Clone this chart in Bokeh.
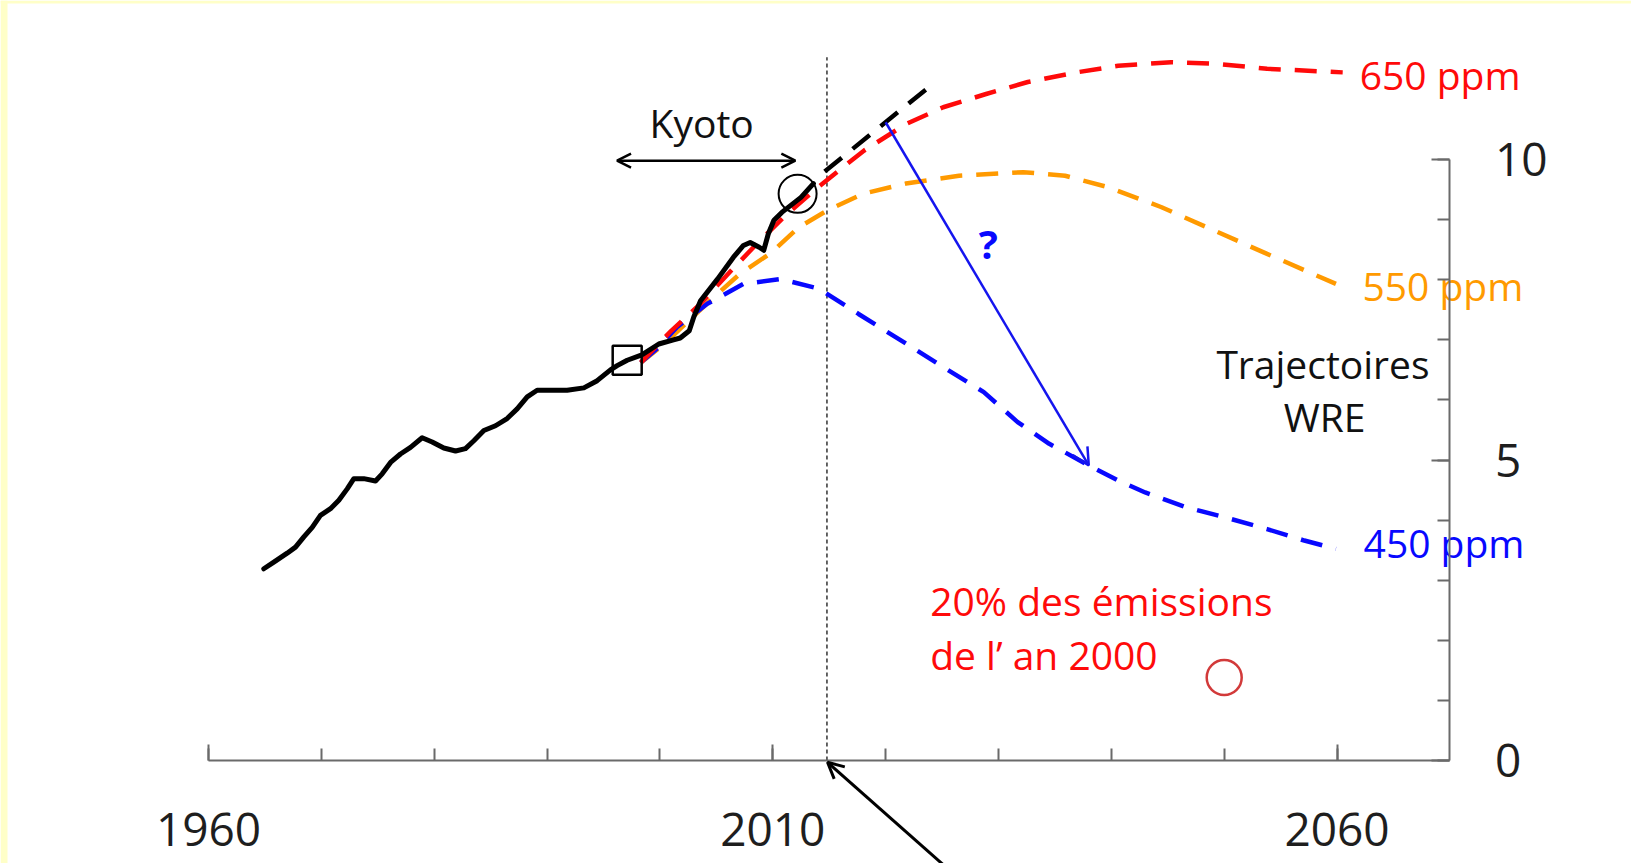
from bokeh.plotting import figure
from bokeh.models import Range1d, LinearAxis, FixedTicker, Arrow, OpenHead, BoxAnnotation
from bokeh.core.properties import value
from bokeh.embed import file_html
from bokeh.resources import INLINE

FONT = "Open Sans"

# ---------------- data ----------------
hist_years = [1964.90, 1965.79, 1966.97, 1967.71, 1968.45, 1969.19, 1969.92, 1970.81,
              1971.55, 1972.29, 1972.88, 1973.76, 1974.80, 1975.39, 1976.13, 1977.01,
              1977.90, 1978.93, 1979.82, 1980.85, 1981.89, 1982.77, 1983.51, 1984.40,
              1985.43, 1986.46, 1987.35, 1988.24, 1989.12, 1990.30, 1991.78, 1993.26,
              1994.44, 1995.62, 1996.21, 1997.1, 1998.4, 1999.9, 2001.2, 2001.8, 2002.6,
              2003.0, 2003.6, 2005.1, 2006.5, 2007.4, 2008.0, 2008.8, 2009.2, 2009.6,
              2010.1, 2010.8, 2012.5, 2013.6]
hist_values = [3.19, 3.30, 3.45, 3.55, 3.72, 3.88, 4.08, 4.19,
               4.33, 4.52, 4.69, 4.69, 4.65, 4.77, 4.96, 5.10,
               5.21, 5.37, 5.30, 5.20, 5.15, 5.19, 5.32, 5.49,
               5.57, 5.69, 5.85, 6.05, 6.16, 6.16, 6.16, 6.20,
               6.32, 6.50, 6.57, 6.66, 6.75, 6.93, 7.00, 7.03, 7.15,
               7.38, 7.65, 8.01, 8.37, 8.57, 8.62, 8.54, 8.49, 8.76,
               8.99, 9.12, 9.37, 9.60]

trend_years = [2014.6, 2024.0]
trend_values = [9.80, 11.23]

s650_years = [1998.3, 2001.0, 2003.6, 2006.3, 2008.6, 2011.3, 2013.9, 2016.6, 2018.1,
              2021.8, 2025.1, 2028.9, 2032.6, 2036.9, 2040.6, 2045.3, 2049.5, 2053.8, 2060.5]
s650_values = [6.62, 7.15, 7.60, 8.15, 8.60, 9.10, 9.52, 9.93, 10.15,
               10.59, 10.87, 11.09, 11.29, 11.45, 11.56, 11.62, 11.59, 11.51, 11.45]

s550_years = [1998.3, 2000.5, 2002.4, 2004.6, 2007.1, 2009.8, 2012.3, 2014.8, 2018.0,
              2021.8, 2026.5, 2032.2, 2035.9, 2039.7, 2044.4, 2049.1, 2053.8, 2059.9]
s550_values = [6.62, 6.95, 7.29, 7.68, 8.10, 8.44, 8.87, 9.15, 9.43,
               9.60, 9.73, 9.79, 9.73, 9.54, 9.21, 8.82, 8.43, 7.93]

s450_years = [1998.3, 1999.9, 2001.5, 2004.2, 2007.4, 2010.7, 2014.1, 2017.6, 2021.1,
              2024.9, 2028.7, 2031.7, 2034.5, 2038.0, 2040.6, 2043.0, 2046.7, 2050.0,
              2053.8, 2057.1, 2059.9]
s450_values = [6.62, 6.88, 7.21, 7.60, 7.93, 8.01, 7.85, 7.43, 7.02,
               6.57, 6.13, 5.63, 5.27, 4.91, 4.66, 4.46, 4.21, 4.05,
               3.85, 3.66, 3.52]

scenario_labels = ["650 ppm", "550 ppm", "450 ppm"]
scenario_colors = ["#ff0a0a", "#ff9a00", "#0808ff"]
label_years = [2062.0, 2062.25, 2062.35]
label_values = [11.41, 7.91, 3.62]

x_major_ticks = [1960, 2010, 2060]
x_minor_ticks = [1960, 1970, 1980, 1990, 2000, 2010, 2020, 2030, 2040, 2050, 2060]
y_major_ticks = [0, 5, 10]
y_minor_ticks = [0, 1, 2, 3, 4, 5, 6, 7, 8, 9, 10]

# ---------------- figure ----------------
W, H = 1631, 863
X0, X1 = 1941.57, 2086.09
Y0, Y1 = -1.714, 12.646
p = figure(width=W, height=H, x_range=Range1d(X0, X1), y_range=Range1d(Y0, Y1),
           output_backend="svg", toolbar_location=None, min_border=0,
           x_axis_type=None, y_axis_type=None)
p.outline_line_color = None
p.background_fill_color = "white"
p.border_fill_color = "white"

# pale yellow slide border (left and top edges)
BORDER = "#ffffc8"
p.add_layout(BoxAnnotation(right=X0 + 7 * (X1 - X0) / W, fill_color=BORDER, fill_alpha=1,
                           line_color=None, level="underlay"))
p.add_layout(BoxAnnotation(bottom=Y1 - 3 * (Y1 - Y0) / H, fill_color=BORDER, fill_alpha=1,
                           line_color=None, level="underlay"))

AXIS_COLOR = "#6a6a6a"
xaxis = LinearAxis(fixed_location=0, bounds=(1960, 2070),
                   ticker=FixedTicker(ticks=x_major_ticks, minor_ticks=x_minor_ticks))
xaxis.axis_line_color = AXIS_COLOR
xaxis.axis_line_width = 2
xaxis.major_tick_line_color = AXIS_COLOR
xaxis.minor_tick_line_color = AXIS_COLOR
xaxis.major_tick_line_width = 2
xaxis.minor_tick_line_width = 2
xaxis.major_tick_in = 16
xaxis.major_tick_out = 0
xaxis.minor_tick_in = 12
xaxis.minor_tick_out = 0
xaxis.major_label_standoff = 53
xaxis.major_label_text_font = FONT
xaxis.major_label_text_font_size = "46px"
xaxis.major_label_text_color = "#1e1e1e"
p.add_layout(xaxis, "below")

yaxis = LinearAxis(fixed_location=2070, bounds=(0, 10),
                   ticker=FixedTicker(ticks=y_major_ticks, minor_ticks=y_minor_ticks))
yaxis.axis_line_color = AXIS_COLOR
yaxis.axis_line_width = 2
yaxis.major_tick_line_color = AXIS_COLOR
yaxis.minor_tick_line_color = AXIS_COLOR
yaxis.major_tick_line_width = 2
yaxis.minor_tick_line_width = 2
yaxis.major_tick_in = 18
yaxis.major_tick_out = 0
yaxis.minor_tick_in = 12
yaxis.minor_tick_out = 0
yaxis.major_label_standoff = 45
yaxis.major_label_text_font = FONT
yaxis.major_label_text_font_size = "46px"
yaxis.major_label_text_color = "#1e1e1e"
p.add_layout(yaxis, "right")

# vertical dotted line at present
p.segment(x0=[2014.8], y0=[0], x1=[2014.8], y1=[11.7], line_color="#333333",
          line_width=1.5, line_dash="4 3")

DASH = "22 14"
p.line(s550_years, s550_values, line_color=scenario_colors[1], line_width=4.5, line_dash=DASH)
p.line(s450_years, s450_values, line_color=scenario_colors[2], line_width=4.5, line_dash=DASH)
p.line(s650_years, s650_values, line_color=scenario_colors[0], line_width=4.5, line_dash=DASH)
p.line(trend_years, trend_values, line_color="black", line_width=4.5, line_dash=DASH)
p.line(hist_years, hist_values, line_color="black", line_width=5,
       line_join="round", line_cap="round")

# markers
p.scatter([1997.1], [6.66], marker="square", size=29, fill_color=None,
          line_color="black", line_width=2.5)
p.scatter([2012.2], [9.43], marker="circle", size=38, fill_color=None,
          line_color="black", line_width=2)
p.scatter([2050.0], [1.38], marker="circle", size=35, fill_color=None,
          line_color="#d23a3a", line_width=2.5)

# scenario labels
p.text(x=label_years, y=label_values, text=scenario_labels, text_color=scenario_colors,
       text_font=value(FONT), text_font_size="39px", text_align="left",
       text_baseline="alphabetic")

# other texts
p.text(x=[2003.7], y=[10.61], text=["Kyoto"], text_font=value(FONT), text_font_size="39px",
       text_align="center", text_baseline="alphabetic", text_color="#111111")
p.text(x=[2058.75, 2058.9], y=[6.61, 5.72], text=["Trajectoires", "WRE"],
       text_font=value(FONT), text_font_size="39px", text_align="center",
       text_baseline="alphabetic", text_color="#111111")
p.text(x=[2023.95, 2023.95], y=[2.67, 1.76], text=["20% des émissions", "de l’ an 2000"],
       text_font=value(FONT), text_font_size="39px", text_align="left",
       text_baseline="alphabetic", text_color="#ff0a0a")
p.text(x=[2029.1], y=[8.61], text=["?"], text_font=value(FONT), text_font_size="40px",
       text_font_style="bold", text_align="center", text_baseline="alphabetic",
       text_color="#0808ff")

# arrows
p.add_layout(Arrow(start=OpenHead(size=14, line_width=2.5, line_color="black"),
                   end=OpenHead(size=14, line_width=2.5, line_color="black"),
                   x_start=1996.2, y_start=9.98, x_end=2012.0, y_end=9.98,
                   line_width=2.5, line_color="black"))
p.add_layout(Arrow(end=OpenHead(size=17, line_width=2.5, line_color="#1515ee"),
                   x_start=2020.0, y_start=10.62, x_end=2038.0, y_end=4.91,
                   line_width=2.5, line_color="#1515ee"))
p.add_layout(Arrow(end=OpenHead(size=16, line_width=3, line_color="black"),
                   x_start=2025.8, y_start=-1.85, x_end=2014.85, y_end=-0.03,
                   line_width=3, line_color="black"))

open("out.html", "w").write(file_html(p, INLINE))
